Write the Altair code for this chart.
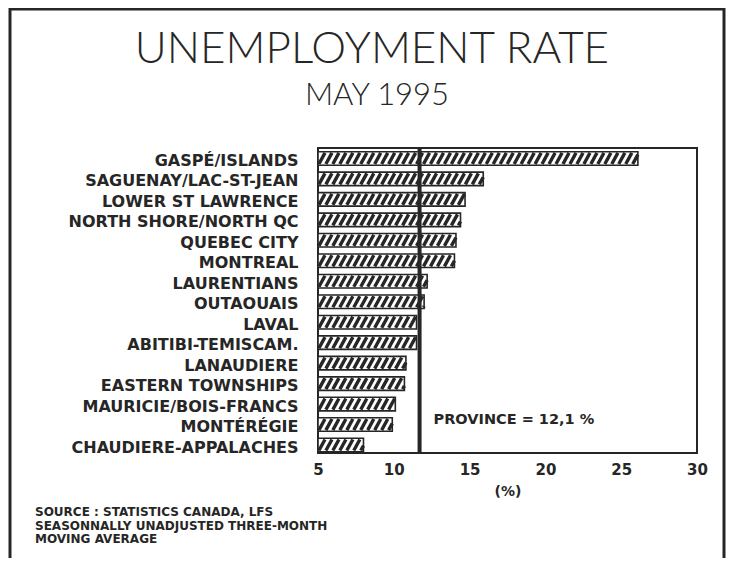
import altair as alt
import pandas as pd

regions = [
    "GASPÉ/ISLANDS", "SAGUENAY/LAC-ST-JEAN", "LOWER ST LAWRENCE",
    "NORTH SHORE/NORTH QC", "QUEBEC CITY", "MONTREAL", "LAURENTIANS",
    "OUTAOUAIS", "LAVAL", "ABITIBI-TEMISCAM.", "LANAUDIERE",
    "EASTERN TOWNSHIPS", "MAURICIE/BOIS-FRANCS", "MONTÉRÉGIE",
    "CHAUDIERE-APPALACHES",
]
rates = [26.1, 15.9, 14.7, 14.4, 14.1, 14.0, 12.2, 12.0, 11.5, 11.5,
         10.8, 10.7, 10.1, 9.9, 8.0]
province = 11.7
province_label = "PROVINCE = 12,1 %"
x_ticks = [5, 10, 15, 20, 25, 30]
title_text = "UNEMPLOYMENT RATE"
subtitle_text = "MAY 1995"
source_lines = [
    "SOURCE : STATISTICS CANADA, LFS",
    "SEASONNALLY UNADJUSTED THREE-MONTH",
    "MOVING AVERAGE",
]

INK = "#262626"
BOLD = "DejaVu Sans"
STEP, SLANT, HALF, HH = 0.46, 0.40, 0.33, 0.27
NK = 60

df = pd.DataFrame({"region": regions, "rate": rates, "idx": list(range(len(regions)))})
df["k"] = [list(range(NK))] * len(df)

label_expr = "[" + ",".join("'" + r + "'" for r in regions) + "][datum.value]"

xscale = alt.Scale(domain=[5, 30], nice=False, zero=False)
yscale = alt.Scale(domain=[-0.51, 14.39], nice=False, zero=False, reverse=True)

xaxis = alt.Axis(values=x_ticks, title="(%)", grid=False, ticks=False,
                 domain=False, labelFont=BOLD, labelFontWeight="bold",
                 labelFontSize=15, labelColor=INK, labelPadding=9,
                 labelFlush=False, labelOverlap=False,
                 titleFont=BOLD, titleFontWeight="bold",
                 titleFontSize=14, titleColor=INK, titlePadding=7)
yaxis = alt.Axis(values=list(range(len(regions))), labelExpr=label_expr,
                 title=None, grid=False, ticks=False, domain=False,
                 labelFont=BOLD, labelFontWeight="bold", labelFontSize=16,
                 labelColor=INK, labelPadding=20, labelOffset=2,
                 labelOverlap=False, labelLimit=0, labelBound=False)

base = alt.Chart(df)

bars = base.transform_calculate(
    x0="5", y0=f"datum.idx - {HALF}", y1=f"datum.idx + {HALF}"
).mark_rect(fill="white", stroke=INK, strokeWidth=1.6).encode(
    x=alt.X("x0:Q", scale=xscale, axis=xaxis, title="(%)"),
    x2="rate:Q",
    y=alt.Y("y0:Q", scale=yscale, axis=yaxis, title=None),
    y2="y1:Q",
)

hatch = base.transform_flatten(["k"]).transform_calculate(
    hx0=f"5 - {SLANT} + datum.k * {STEP}"
).transform_filter(
    "datum.hx0 < datum.rate"
).transform_calculate(
    xs="max(datum.hx0, 5)",
    xe=f"min(datum.hx0 + {SLANT}, datum.rate)",
).transform_calculate(
    ys=f"datum.idx + {HH} - 2 * {HH} * (datum.xs - datum.hx0) / {SLANT}",
    ye=f"datum.idx + {HH} - 2 * {HH} * (datum.xe - datum.hx0) / {SLANT}",
).mark_rule(color=INK, strokeWidth=3.4, strokeCap="butt").encode(
    x=alt.X("xs:Q", scale=xscale, axis=xaxis, title="(%)"), x2="xe:Q",
    y=alt.Y("ys:Q", scale=yscale, axis=yaxis, title=None), y2="ye:Q",
)

pdf = pd.DataFrame({"province": [province], "label": [province_label]})
prov_rule = alt.Chart(pdf).mark_rule(color=INK, strokeWidth=4).encode(
    x=alt.X("province:Q", scale=xscale, axis=xaxis, title="(%)")
)
prov_text = alt.Chart(pdf).mark_text(
    align="left", baseline="middle", dx=14, font=BOLD, fontWeight="bold",
    fontSize=14.5, color=INK
).encode(x=alt.X("province:Q", scale=xscale, axis=xaxis, title="(%)"),
         y=alt.value(272), text="label:N")

one = pd.DataFrame({"t": [title_text], "s": [subtitle_text]})
title = alt.Chart(one).mark_text(
    align="center", baseline="alphabetic", font="Lato", fontWeight=300,
    fontSize=44, color=INK
).encode(x=alt.value(54), y=alt.value(-85), text="t:N")
subtitle = alt.Chart(one).mark_text(
    align="center", baseline="alphabetic", font="Lato", fontWeight=300,
    fontSize=31, color=INK
).encode(x=alt.value(59), y=alt.value(-43), text="s:N")

source = alt.Chart(one).mark_text(
    align="left", baseline="alphabetic", font=BOLD, fontWeight="bold",
    fontSize=12, lineHeight=13.5, color=INK, text=source_lines
).encode(x=alt.value(-283), y=alt.value(368))

frame = alt.Chart(one).mark_rect(
    fill=None, stroke=INK, strokeWidth=3
).encode(x=alt.value(-308), x2=alt.value(406), y=alt.value(-139), y2=alt.value(440))

chart = alt.layer(
    frame, bars, hatch, prov_rule, prov_text, title, subtitle, source
).properties(
    width=379, height=305,
    autosize=alt.AutoSizeParams(type="none"),
    padding={"left": 310, "top": 140, "right": 29, "bottom": 105},
).configure(background="white").configure_view(stroke=INK, strokeWidth=2)

chart.save("out.html", embed_options={"renderer": "svg", "actions": False})
